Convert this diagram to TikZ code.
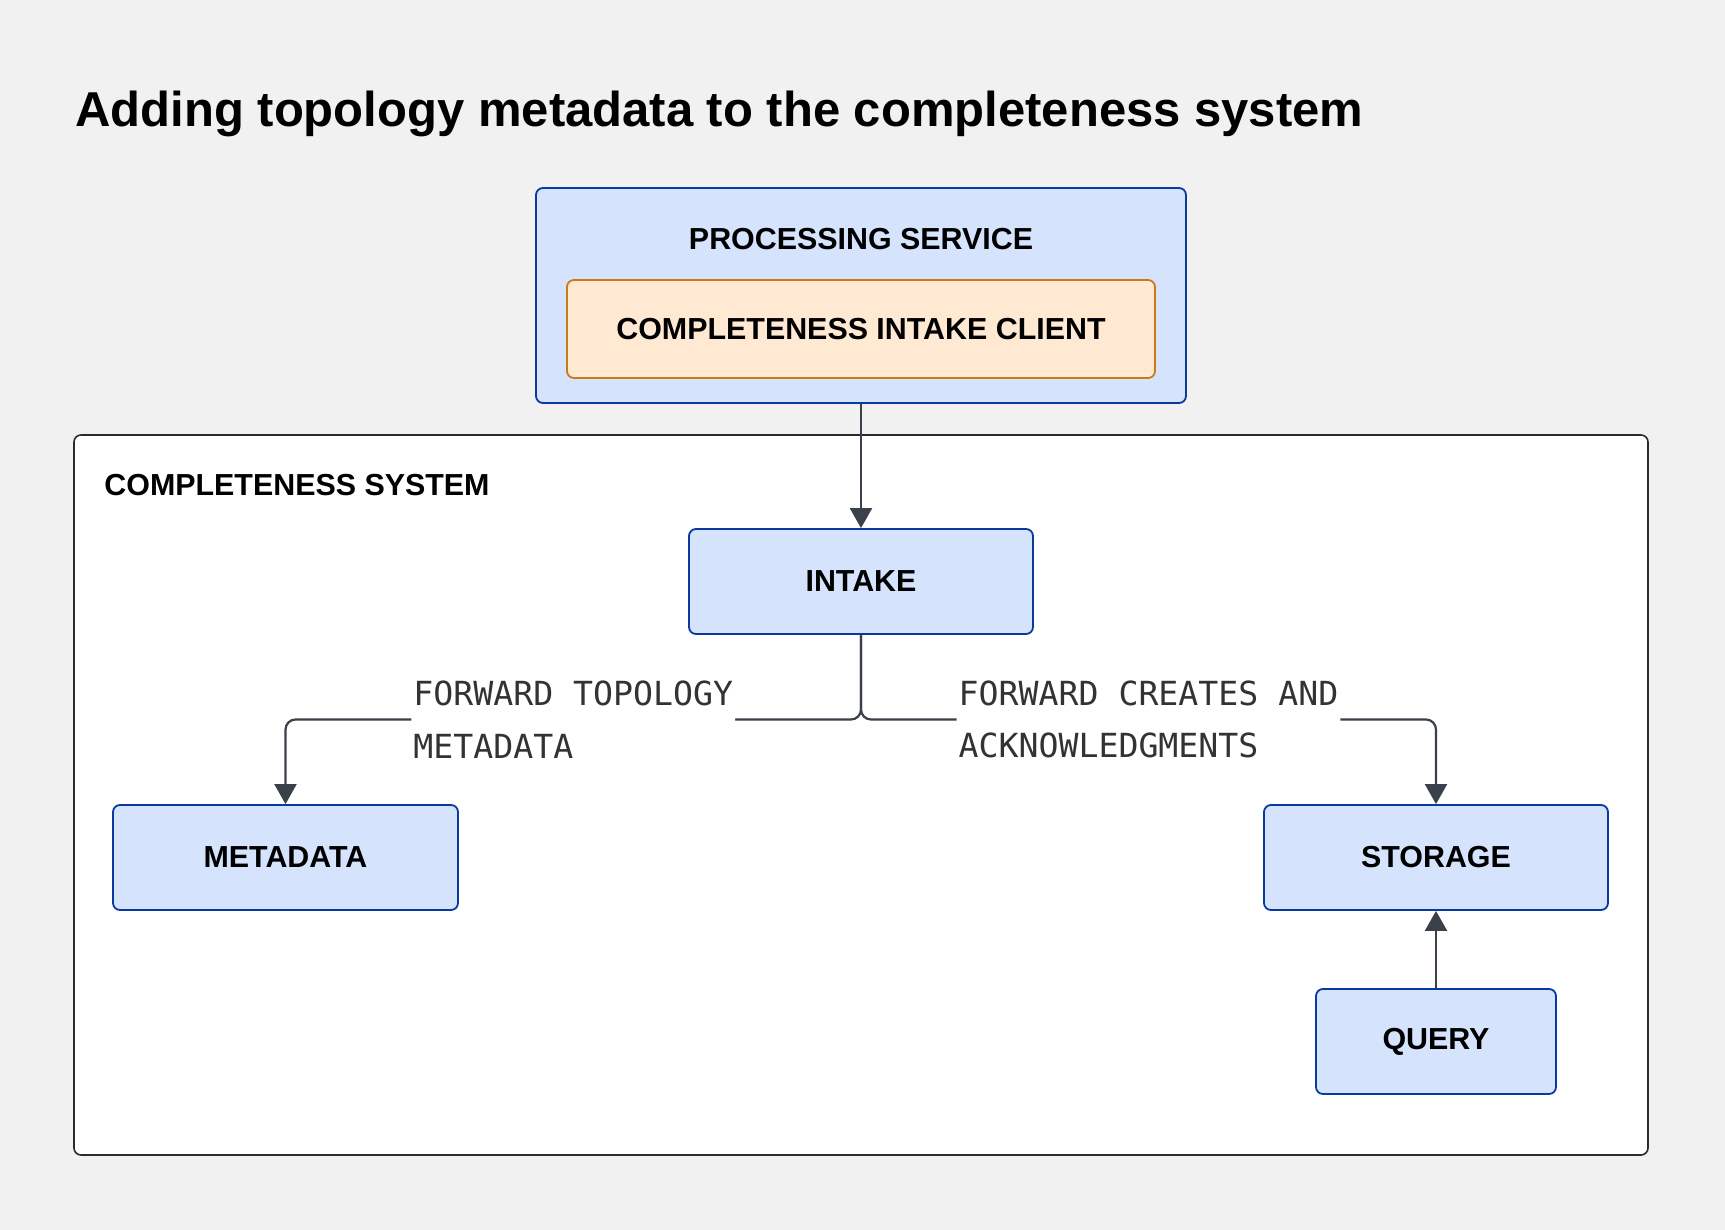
\documentclass[tikz,border=0pt]{standalone}
\usepackage{fontspec}
\setmainfont{Liberation Sans}
\newfontfamily\labelmono{DejaVu Sans Mono}
\usetikzlibrary{arrows.meta}
\definecolor{pagebg}{HTML}{F1F1F1}
\definecolor{boxblue}{HTML}{D5E3FD}
\definecolor{edgeblue}{HTML}{0B3A9E}
\definecolor{boxorange}{HTML}{FFE9D3}
\definecolor{edgeorange}{HTML}{C97A16}
\definecolor{linegray}{HTML}{3A414B}
\definecolor{framegray}{HTML}{2B2B2B}

\begin{document}
\begin{tikzpicture}[x=0.5pt,y=-0.5pt,
  boxfont/.style={font=\bfseries\fontsize{15.2}{18}\selectfont},
  bluebox/.style={draw=edgeblue,fill=boxblue,line width=0.9pt,rounded corners=3.5pt,boxfont,inner sep=0pt},
  orangebox/.style={draw=edgeorange,fill=boxorange,line width=0.9pt,rounded corners=3.5pt,boxfont,inner sep=0pt},
  sysframe/.style={draw=framegray,fill=white,line width=0.8pt,rounded corners=3.5pt,inner sep=0pt},
  conn/.style={draw=linegray,line width=1.1pt,rounded corners=5pt,-{Triangle[width=11pt,length=10pt]}},
  flowlabel/.style={fill=white,text=black!80,align=left,inner xsep=1pt,inner ysep=2pt,
    font=\labelmono\fontsize{16.6}{26.4}\selectfont}]
  \fill[pagebg] (0,0) rectangle (1725,1230);
  \useasboundingbox (0,0) rectangle (1725,1230);
  \node[anchor=base west,inner sep=0pt,font=\bfseries\fontsize{24.5}{29}\selectfont] (title) at (75,127)
    {Adding topology metadata to the completeness system};

  \node[sysframe,minimum width=787pt,minimum height=360pt] (system) at (861,795) {};
  \node[boxfont,anchor=west,inner sep=0pt] (systext) at (104,485) {COMPLETENESS SYSTEM};

  \node[bluebox,minimum width=325pt,minimum height=107.5pt] (proc) at (861,295.5) {};
  \node[boxfont] (proctext) at (861,239) {PROCESSING SERVICE};
  \node[orangebox,minimum width=294pt,minimum height=49pt] (client) at (861,329) {COMPLETENESS INTAKE CLIENT};

  \node[bluebox,minimum width=172pt,minimum height=52.5pt] (intake) at (861,581.5) {INTAKE};
  \node[bluebox,minimum width=172.5pt,minimum height=52.5pt] (metadata) at (285.5,857.5) {METADATA};
  \node[bluebox,minimum width=172pt,minimum height=52.5pt] (storage) at (1436,857.5) {STORAGE};
  \node[bluebox,minimum width=120pt,minimum height=52.5pt] (query) at (1436,1041.5) {QUERY};

  \coordinate (fork) at (861,719.5);
  \draw[conn] (proc.south) -- (intake.north);
  \draw[conn] (intake.south) -- (fork) -| node[flowlabel,pos=0.25] {FORWARD TOPOLOGY\\METADATA} (metadata.north);
  \draw[conn] (intake.south) -- (fork) -| node[flowlabel,pos=0.25] {FORWARD CREATES AND\\ACKNOWLEDGMENTS} (storage.north);
  \draw[conn] (query.north) -- (storage.south);
\end{tikzpicture}
\end{document}
